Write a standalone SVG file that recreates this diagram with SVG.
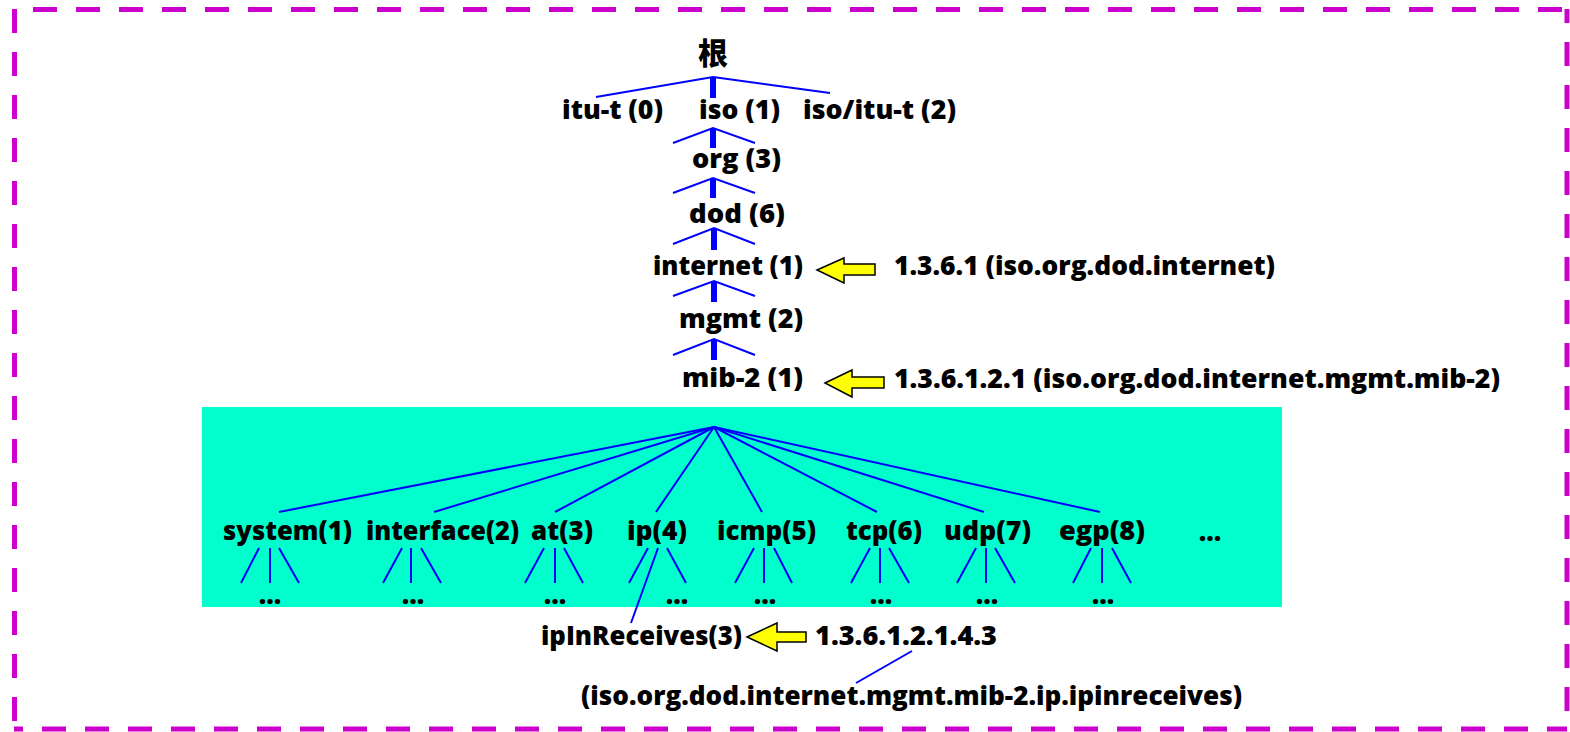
<svg xmlns="http://www.w3.org/2000/svg" width="1570" height="732" viewBox="0 0 1570 732">
<style>
text { font-family: "Open Sans", "Noto Sans CJK SC", sans-serif; font-weight: 800; font-size: 26px; fill: #000; }
.cjk { font-family: "Noto Sans CJK SC", sans-serif; font-weight: 900; font-size: 30px; }
.dots { text-anchor: middle; }
.ln { stroke: #0000FF; stroke-width: 2; fill: none; }
.trunk { stroke: #0000FF; stroke-width: 6; }
.arrow { fill: #FFFF00; stroke: #000; stroke-width: 1.5; }
.border { stroke: #CC00CC; stroke-width: 5; stroke-dasharray: 24 19; fill: none; }
</style>
<rect width="1570" height="732" fill="#fff"/>
<g id="frame">
<line class="border" x1="14" y1="9.5" x2="1567" y2="9.5" stroke-dashoffset="24"/>
<line class="border" x1="14.5" y1="9" x2="14.5" y2="729"/>
<line class="border" x1="14" y1="729" x2="1567" y2="729" stroke-dashoffset="15"/>
<line class="border" x1="1567" y1="9" x2="1567" y2="729" stroke-dashoffset="10"/>
</g>
<rect id="mib2-area" x="202" y="407" width="1080" height="200" fill="#00FFCC"/>
<g id="connectors">
<polyline class="ln" points="596,97 713,77 830,93"/>
<line class="trunk" x1="713" y1="77" x2="713" y2="98"/>
<polyline class="ln" points="673,143 713,128 755,143"/>
<line class="trunk" x1="713" y1="128" x2="713" y2="148"/>
<polyline class="ln" points="673,193 713,178 755,193"/>
<line class="trunk" x1="713" y1="178" x2="713" y2="198"/>
<polyline class="ln" points="673,244 714,228 755,244"/>
<line class="trunk" x1="714" y1="228" x2="714" y2="250"/>
<polyline class="ln" points="673,296 714,281 755,296"/>
<line class="trunk" x1="714" y1="281" x2="714" y2="302"/>
<polyline class="ln" points="673,355 714,339 755,355"/>
<line class="trunk" x1="714" y1="339" x2="714" y2="360"/>
<line class="ln" x1="714" y1="427" x2="279" y2="512"/>
<line class="ln" x1="714" y1="427" x2="434" y2="512"/>
<line class="ln" x1="714" y1="427" x2="555" y2="512"/>
<line class="ln" x1="714" y1="427" x2="656" y2="512"/>
<line class="ln" x1="714" y1="427" x2="762" y2="512"/>
<line class="ln" x1="714" y1="427" x2="877" y2="512"/>
<line class="ln" x1="714" y1="427" x2="984" y2="512"/>
<line class="ln" x1="714" y1="427" x2="1100" y2="512"/>
<path class="ln" d="M259,548 L241,583 M270,548 L270,583 M279,548 L299,583"/>
<path class="ln" d="M402,548 L383,583 M411,548 L411,583 M421,548 L441,583"/>
<path class="ln" d="M544,548 L525,583 M555,548 L555,583 M564,548 L583,583"/>
<path class="ln" d="M648,548 L629,583 M667,548 L686,583"/>
<line class="ln" x1="658" y1="548" x2="631" y2="623"/>
<path class="ln" d="M754,548 L735,583 M764,548 L764,583 M774,548 L792,583"/>
<path class="ln" d="M870,548 L851,583 M880,548 L880,583 M889,548 L909,583"/>
<path class="ln" d="M976,548 L957,583 M986,548 L986,583 M995,548 L1015,583"/>
<path class="ln" d="M1091,548 L1073,583 M1102,548 L1102,583 M1112,548 L1131,583"/>
<line class="ln" x1="912" y1="651" x2="856" y2="683"/>
<polygon class="arrow" points="817,270 844,258 844,264 875,264 875,275 844,275 844,283"/>
<polygon class="arrow" points="825,383 852,370 852,377 884,377 884,388 852,388 852,397"/>
<polygon class="arrow" points="747,637 777,623 777,632 806,632 806,642 777,642 777,651"/>
</g>
<g id="n-root"><text class="cjk" x="713" y="64" text-anchor="middle">根</text></g>
<g id="n-itu"><text x="562" y="119" textLength="101" lengthAdjust="spacingAndGlyphs">itu-t (0)</text></g>
<g id="n-iso"><text x="699" y="119" textLength="81" lengthAdjust="spacingAndGlyphs">iso (1)</text></g>
<g id="n-isoitu"><text x="803" y="119" textLength="153" lengthAdjust="spacingAndGlyphs">iso/itu-t (2)</text></g>
<g id="n-org"><text x="692" y="168" textLength="89" lengthAdjust="spacingAndGlyphs">org (3)</text></g>
<g id="n-dod"><text x="689" y="223" textLength="96" lengthAdjust="spacingAndGlyphs">dod (6)</text></g>
<g id="n-internet"><text x="653" y="275" textLength="150" lengthAdjust="spacingAndGlyphs">internet (1)</text></g>
<g id="n-mgmt"><text x="679" y="328" textLength="124" lengthAdjust="spacingAndGlyphs">mgmt (2)</text></g>
<g id="n-mib2"><text x="682" y="387" textLength="121" lengthAdjust="spacingAndGlyphs">mib-2 (1)</text></g>
<g id="lbl-internet"><text x="894" y="275" textLength="381" lengthAdjust="spacingAndGlyphs">1.3.6.1 (iso.org.dod.internet)</text></g>
<g id="lbl-mib2"><text x="894" y="388" textLength="606" lengthAdjust="spacingAndGlyphs">1.3.6.1.2.1 (iso.org.dod.internet.mgmt.mib-2)</text></g>
<g id="n-system"><text x="223" y="540" textLength="129" lengthAdjust="spacingAndGlyphs">system(1)</text><text class="dots" x="270" y="604">...</text></g>
<g id="n-interface"><text x="366" y="540" textLength="153" lengthAdjust="spacingAndGlyphs">interface(2)</text><text class="dots" x="413" y="604">...</text></g>
<g id="n-at"><text x="531" y="540" textLength="62" lengthAdjust="spacingAndGlyphs">at(3)</text><text class="dots" x="555" y="604">...</text></g>
<g id="n-ip"><text x="627" y="540" textLength="60" lengthAdjust="spacingAndGlyphs">ip(4)</text><text class="dots" x="677" y="604">...</text></g>
<g id="n-icmp"><text x="717" y="540" textLength="99" lengthAdjust="spacingAndGlyphs">icmp(5)</text><text class="dots" x="765" y="604">...</text></g>
<g id="n-tcp"><text x="846" y="540" textLength="76" lengthAdjust="spacingAndGlyphs">tcp(6)</text><text class="dots" x="881" y="604">...</text></g>
<g id="n-udp"><text x="944" y="540" textLength="87" lengthAdjust="spacingAndGlyphs">udp(7)</text><text class="dots" x="987" y="604">...</text></g>
<g id="n-egp"><text x="1059" y="540" textLength="86" lengthAdjust="spacingAndGlyphs">egp(8)</text><text class="dots" x="1103" y="604">...</text></g>
<g id="n-more"><text class="dots" x="1210" y="541">...</text></g>
<g id="n-ipinreceives"><text x="541" y="645" textLength="201" lengthAdjust="spacingAndGlyphs">ipInReceives(3)</text></g>
<g id="lbl-ipinreceives"><text x="815" y="645" textLength="182" lengthAdjust="spacingAndGlyphs">1.3.6.1.2.1.4.3</text>
<text x="581" y="705" textLength="661" lengthAdjust="spacingAndGlyphs">(iso.org.dod.internet.mgmt.mib-2.ip.ipinreceives)</text></g>
</svg>
